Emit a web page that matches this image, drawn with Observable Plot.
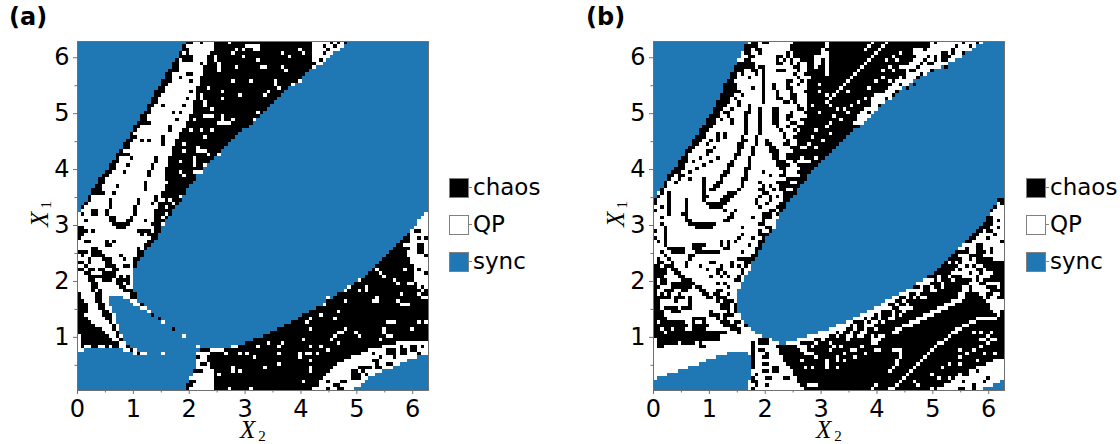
<!DOCTYPE html>
<html><head><meta charset="utf-8">
<script src="https://cdn.jsdelivr.net/npm/d3@7"></script>
<script src="https://cdn.jsdelivr.net/npm/@observablehq/plot@0.6"></script>
<style>
html,body{margin:0;padding:0;background:#fff;width:1120px;height:444px;overflow:hidden}
#page{position:relative;width:1120px;height:444px;font-family:"DejaVu Sans",sans-serif;color:#000}
.abs{position:absolute;white-space:nowrap;line-height:1}
.panel{position:absolute;top:0}
.tag{font-weight:700;font-size:24px}
.ax{font-family:"Liberation Serif",serif;font-style:italic;font-size:25px;line-height:.8}
.ax sub{font-style:normal;font-size:15px;vertical-align:-3px;line-height:0;margin-left:3px}
.sw{position:absolute;width:18px;height:18px;border:1px solid #808080;box-sizing:content-box}
.sw:after{content:"";position:absolute;left:19px;top:8px;width:3px;height:1px;background:#808080}
.lb{font-size:23px}
</style></head><body><div id="page"></div>
<script>
const categories=["chaos","QP","sync"];
const colors=["#000000","#ffffff","#1f77b4"];
const xTicks=[0,1,2,3,4,5,6], yTicks=[1,2,3,4,5,6];
const xMinor=[0.5,1.5,2.5,3.5,4.5,5.5], yMinor=[0.5,1.5,2.5,3.5,4.5,5.5];
const xDomain=[0,6.283], yDomain=[0.05,6.29];
// each row: state + end column, runs from left to right; k=chaos, w=QP, s=sync
const rowsA=[
"s31 k33 w35 k36 w39 k67 w72 k73 w74 k75 w76 k77","s30 k31 w39 k67 w70 k71 w73 k74 w76","s30 k32 w39 k67 w71 k72 w75","s29 k30 w31 k32 w38 k67 w70 k71 w73","s29 k33 w37 k67 w72",
"s28 k29 w30 k33 w37 k67 w69 k70 w71","s27 k29 w37 k68 w70","s27 k29 w36 k67 w68","s26 k29 w36 k66","s25 k27 w31 k33 w36 k65",
"s25 k27 w35 k64","s24 k27 w35 k63","s24 k26 w35 k62","s23 k25 w34 k60","s22 k25 w34 k59",
"s22 k24 w34 k58","s21 k23 w34 k57","s21 k23 w33 k56","s20 k22 w33 k55","s20 k21 w33 k54",
"s19 k21 w33 k53","s18 k20 w32 k52","s18 k20 w32 k51","s17 k21 w31 k50","s16 k18 w31 k49",
"s16 k17 w30 k47","s15 k16 w29 k46","s15 k17 w29 k45","s14 k16 w28 k44","s13 k15 w28 k43",
"s13 k15 w27 k42","s12 k13 w27 k41","s11 k15 w27 k40","s11 k12 w26 k39","s10 k12 w26 k38",
"s9 k11 w26 k37","s9 k11 w25 k36","s8 k10 w25 k35","s7 k9 w25 k34","s6 k8 w25 k34",
"s6 k8 w25 k33","s5 k7 w25 k32","s4 k7 w25 k31","s4 k8 w24 k31","s3 k4 w24 k30",
"s3 k4 w24 k30","s2 k3 w24 k29","s1 k2 w23 k28","s1 w4 k6 w22 k27","w1 k2 w4 k6 w8 k9 w16 k17 w22 k27 s99 w100",
"w9 k11 w15 k16 w22 k24 w25 k26 s98 w100","w2 k3 w9 k11 w14 k16 w19 k20 w22 k25 s97 w100","w10 k15 w21 k24 w25 s97 w100","k2 w11 k14 w22 k24 s96 w100","k3 w4 k5 w17 k21 w22 k24 s95 w96 k98 w100",
"k2 w18 k19 w20 k23 s94 k95 w100","k1 w21 k23 s93 k95 w97 k98 w99 k100","w2 k4 w8 k9 w10 k11 w20 k22 s92 k95 w100","w8 k10 w19 k21 s91 k93 w97 k99 w100","w4 k6 w17 k18 w19 k20 s90 k95 w97 k99 w100",
"k3 w4 k7 w17 k19 s89 k94 w97 k99 w100","w1 k2 w4 k8 w12 k13 w17 k19 s88 k94 w99 k100","w3 k4 w7 k10 w13 k14 w16 k18 s87 k95 w100","k2 w3 k4 w8 k10 w16 k17 s86 k95 w100","w2 k3 w8 k11 w13 k15 w16 k17 s85 k96 w100",
"k2 w3 k5 w6 k8 w10 k12 w16 s84 k96 w97 k98 w100","w2 k4 w7 k11 w16 s83 k96 w99 k100","w3 k5 k11 w12 k13 w14 k15 w16 s82 k96 w100","w3 k5 w7 k10 w11 k15 w16 s80 k96 w100","w4 k6 w11 k13 w14 k15 w16 s79 k94 w96 k97 w100",
"w4 k6 w12 k14 w16 s77 k97 w98 k99 w100","w4 k5 w6 k7 w13 k16 s76 k98 w99 k100","k1 w5 k7 w15 k17 s74 k97 w98 k100","k1 w5 k7 w9 s13 w15 k17 s73 k98 w100","k2 w5 k7 w9 s15 w17 s71 k100",
"k3 w6 k8 w9 s16 w18 k19 s70 k100","k3 w6 k8 w10 s18 w20 s68 k100","k3 w7 k9 w10 s20 w21 s66 k100","k2 w7 k10 w11 s21 k22 s64 k100","k3 w8 k10 w11 s23 k24 s63 k100",
"k4 w9 k10 w11 s24 w25 s61 k100","k5 w10 k11 w12 s59 k100","k7 w10 k11 w12 s27 k28 s57 k100","k8 w11 k12 s55 k100","w1 k9 w11 k12 w13 s30 w31 s53 k100",
"w1 k10 w12 k13 s50 k100","w1 k12 w14 s48 k91 w100","w1 k2 w4 k6 w8 k9 w10 k12 w14 k15 s34 w35 s44 w46 k87 w95 k97 w98 k99 w100","w2 s13 w15 k16 w17 s35 k38 w42 k83 w88 k91 w92 k94 w100","s16 w17 k18 w20 s24 w25 s34 w38 k81 w88 k91 w92 k94 w100",
"s34 k35 w37 k78 w97 s100","s34 w37 k76 w85 k86 w94 s100","s34 w35 k37 w38 k74 w85 k86 w89 k90 w92 s100","s34 w38 k73 w80 k84 w85 k87 w90 s100","s33 k36 w39 k72 w78 k79 w87 s100",
"s33 w39 k71 w78 k81 w82 k83 w85 s100","s32 w39 k70 w78 k81 w83 s100","s32 k34 w39 k69 w71 k72 w75 k77 w82 s100","s31 k33 w39 k69 w74 k75 w81 s100","s31 k32 w39 k67 w71 k72 w74 k76 w79 s100"];
// single cells [col,row]
const chaosDotsA=[[9,45],[9,46],[9,47],[8,48],[16,47],[16,48],[16,49],[17,45],[17,46],[19,40],[19,41],[19,42],[20,37],[20,38],[21,35],[21,36],[22,33],[22,34],[24,27],[24,28],[24,29],[26,24],[18,28],[20,28],[15,33],[14,35],[13,37],[11,41],[10,43],[24,18],[27,20],[29,20],[31,16],[32,14],[30,18],[28,22],[26,25],[32,11],[35,6],[29,10],[21,46],[22,44],[22,45],[23,46],[23,47],[78,94],[79,94],[84,91],[83,93],[88,92],[86,90],[84,89],[90,88],[75,97],[73,98],[81,94],[90,90],[92,87],[93,89],[95,88],[96,88],[97,89]];
const qpDotsA=[[43,0],[45,2],[47,2],[48,1],[49,1],[50,1],[51,1],[50,2],[44,3],[47,4],[39,4],[39,5],[40,6],[40,7],[40,8],[45,7],[44,11],[49,11],[46,15],[37,13],[41,14],[41,16],[35,15],[35,16],[36,17],[36,18],[38,19],[36,21],[37,21],[38,21],[41,21],[41,22],[41,23],[40,23],[42,23],[43,23],[44,22],[33,22],[32,25],[35,25],[38,25],[36,27],[30,29],[34,30],[30,31],[34,31],[35,31],[36,31],[33,33],[33,34],[33,35],[37,32],[40,32],[29,34],[36,35],[29,37],[30,38],[33,37],[34,37],[35,37],[25,40],[24,45],[25,47],[29,44],[27,46],[26,45],[25,49],[51,2],[51,5],[58,3],[60,4],[63,2],[64,3],[52,7],[53,7],[58,7],[59,8],[56,11],[56,12],[54,14],[57,13],[53,15],[51,20],[50,22],[61,12],[63,11],[85,65],[86,66],[87,67],[90,68],[91,69],[93,65],[94,69],[95,69],[80,68],[82,70],[80,71],[82,71],[76,71],[77,70],[76,74],[71,73],[70,75],[69,78],[74,77],[73,79],[66,79],[65,80],[66,82],[84,74],[85,74],[85,73],[91,74],[92,72],[92,75],[93,75],[94,75],[97,80],[99,80],[95,82],[88,80],[89,80],[90,80],[87,82],[87,83],[88,84],[89,84],[86,85],[80,84],[79,83],[76,82],[74,83],[75,83],[73,84],[72,85],[74,86],[54,86],[57,87],[58,86],[51,87],[50,90],[57,89],[57,92],[53,93],[64,85],[66,87],[63,89],[65,89],[66,89],[69,87],[68,89],[71,88],[63,90],[66,91],[66,93],[66,94],[64,97],[46,89],[48,89],[42,89],[40,95],[44,93],[44,94],[46,94],[49,99],[43,99]];
const rowsB=[
"s27 w28 k30 w31 k33 w40 k79 w80 k81 w88 k89 w92 k93 w94","s26 k30 w39 k79 w86 k87 w92","s26 k28 w29 k31 w39 k74 w77 k78 w85 k86 w89 w91","s25 w26 k28 w30 k31 w38 k39 w40 k74 w82 k84 w85 k86 w89","s25 w27 k29 w35 k37 w38 k39 w40 k75 w78 k79 w80 k81 w82 k85 w88",
"s24 w26 k28 w35 k36 w37 k38 w39 k40 w42 k74 w80 k81 w82 k84 w86","s24 k29 w35 k37 w39 k40 w41 k42 w44 k73 w76 k77 w79 k80 w84","s23 k29 w30 k32 w40 k42 w44 k71 w75 k76 w82","s23 k26 w28 k30 w31 k32 w35 k38 w41 k42 w44 k72 w74 k75 w80","s22 k24 w25 k26 w29 k30 w31 k32 w40 k41 w43 k72 w78",
"s22 k24 w27 k28 w31 k32 w41 k42 w45 k70 w76","s21 k23 w31 k32 w38 k40 w42 k43 w44 k69 w74","s20 k24 w31 k32 w34 k35 w38 k39 w41 k42 w44 k47 w48 k68 w73","s20 k24 w28 k29 w31 k32 w34 k35 w38 k40 w44 k67 w71","s20 k25 w31 k32 w35 k36 w39 k40 w43 k66 w70",
"s19 k23 w25 k26 w31 k32 w35 k36 w39 k41 w44 k63 w69","s19 k22 w23 k24 w31 k32 w35 k37 w39 k41 w44 k62 w68","s18 k22 w24 k25 w31 k32 w37 k39 w40 k41 w44 k62 w66","s18 k21 w24 k25 w27 k28 w41 k42 w44 k62 w65","s17 k20 w22 k23 w27 k28 w30 k31 w34 k36 w41 k43 w44 k60 w64",
"s17 k19 w20 k22 w26 k28 w30 k31 w34 k36 w39 k40 w43 k59 w63","s16 k19 w21 k22 w26 k27 w30 k31 w34 k36 w38 k40 w44 k58 w62","s15 k18 w19 k20 w22 k23 w26 k27 w30 k31 w34 k36 w38 k39 w42 k58 w61","s15 k18 w22 k23 w26 k27 w30 k31 w34 k36 w39 k41 w43 k57 w60","s14 k17 w26 k27 w30 k31 w35 k36 w38 k39 w41 k59",
"s13 k16 w26 k27 w30 k31 w36 k37 w40 k41 w42 k57","s13 k15 w18 k19 w20 k21 w26 k27 w30 k31 w37 k38 w41 k56","s12 k15 w18 k19 w20 k21 w25 k26 w29 k30 w37 k38 w40 k55","s11 k14 w16 k17 w18 k19 w25 k27 w29 k30 w32 k33 w38 k39 w41 k54","s11 k13 w15 k16 w24 k26 w29 k30 w32 k34 w37 k39 w41 k53",
"s10 k12 w17 k18 w24 k26 w28 k29 w33 k35 w39 k42 w44 k52","s9 k11 w15 k17 w24 k25 w28 k29 w33 k36 w40 k51","s9 k10 w15 k16 w23 k25 w28 k29 w34 k36 w38 k50","s8 k10 w13 k14 w18 k19 w23 k24 w27 k28 w34 k36 w38 k42 w43 k49","s7 k10 w11 k12 w16 k17 w22 k23 w27 k28 w35 k38 w40 k41 w45 k48",
"s7 k9 w14 k15 w21 k23 w27 k28 w35 k39 w41 k47","s6 k9 w12 k13 w21 k22 w26 k28 w36 k38 w42 k46","s5 k8 w10 k11 w20 k22 w26 k27 w31 k32 w37 k38 w41 k45","s4 k6 w7 k9 w19 k21 w26 k27 w33 k34 w36 k38 w42 k44","s4 k5 w7 k8 w10 k11 w14 k15 w19 k20 w25 k27 w38 k44",
"s3 k4 w6 k7 w14 k15 w18 k20 w25 k26 w30 k31 w35 k39 w41 k43","s3 k4 w14 k15 w17 k19 w25 k26 w31 k32 w33 k34 w36 k42","s2 k3 w14 k15 w16 k18 w24 k25 w30 k32 w34 k35 w36 k38 w40 k41","s1 w2 k3 w4 k5 w14 k15 w21 k24 w31 k33 w37 k41","s1 k2 w4 k5 w14 k16 w20 k23 w30 k31 w33 k34 w35 k36 w37 k40",
"k1 w4 k5 w9 k10 w14 k15 w19 k22 w29 k30 w33 k34 w37 k39 s98 k100","k1 w4 k5 w9 k10 w15 k21 w29 k30 w32 k33 w36 k38 s98 w99 k100","w2 k3 w4 k5 w9 k10 w16 k20 w30 k31 w35 k38 s97 k98 w100","k1 w4 k5 w9 k10 w20 k21 w23 k24 w33 k35 w36 k37 s96 k97 w100","w4 k5 w8 k10 w22 k23 w31 k34 w35 k36 s96 w100",
"w2 k3 w9 k10 w21 k23 w28 k29 w31 k34 w36 s95 k97 w100","w9 k11 w20 k22 w31 k32 w35 s95 k97 w98 k99 w100","w2 k3 w10 k18 w30 k32 w35 s94 k97 w100","w3 k4 w12 k17 w25 k26 w32 k34 w35 s93 k96 w98 k99 w100","k1 w3 k4 w30 k31 w33 k34 s92 k94 w95 k97 w100",
"w3 k4 w25 k26 w30 k33 s91 k93 w97 k98 w100","k1 w3 k4 w24 k25 w28 k29 w31 k32 s90 k92 w95 k96 w100","w1 k2 w3 k4 w19 k20 w21 k22 w23 k24 w30 k32 s89 k91 w99 k100","w3 k4 w11 k15 w19 k20 w21 k22 w27 k28 w30 k31 s88 w92 k94 w100","w4 k9 w11 k14 w20 k22 w29 k31 s87 w89 k90 w92 k94 w96 k97 w100",
"w2 k3 w5 k9 w12 k19 w25 k26 w29 k30 s86 k90 w92 k95 w96 k97 w100","w3 k4 w10 k12 w28 k30 s85 k87 w90 k94 w100","w1 k2 w4 k5 w10 k11 w24 k29 s84 k88 w90 k91 w92 k97 w100","w1 k3 w5 k6 w9 k10 w16 k18 w22 k23 w26 k28 s83 k88 w92 k100","k2 w3 k6 w9 k10 w13 k14 w19 k20 w22 k23 w24 k25 w26 k27 w28 s82 k87 w89 k90 w91 k92 w94 k100",
"k4 w5 k7 w15 k16 w18 k20 w25 k26 w28 s81 k86 w87 k88 w92 k94 w95 k100","k4 w6 k8 w18 k19 w20 k21 w25 k26 w27 s80 k85 w90 k91 w93 k94 w97 k100","k3 w7 k9 w16 k17 w19 k20 w21 k22 w24 k25 w26 s78 k84 w85 k88 w92 k93 w96 k100","k1 w2 k4 w8 k11 w23 k25 w26 s77 w80 k81 w82 k85 w86 k91 w92 k93 w94 k100","k1 w2 k4 w5 k12 w18 k19 w20 k21 w25 s75 w78 k82 w83 k90 w93 k95 w99 k100",
"k2 w5 k11 w12 k14 w21 k22 w25 s74 k76 w77 k79 w80 k82 w83 k88 w90 k91 w95 k98 w99 k100","k1 w3 k6 w8 k10 w13 k15 w18 k20 w24 s72 w75 k76 w77 k80 w81 k88 w90 k91 w96 k100","k1 w2 k3 w4 k5 w7 k8 w14 k16 w17 k19 w21 k22 w24 s70 w73 k75 w76 k87 w89 k93 w95 k97 w99 k100","k5 w6 k9 w10 k11 w15 k17 w18 k21 w24 s68 w70 k72 w73 k74 w75 k77 w78 k87 w89 k94 w95 k96 w98 k100","k2 w6 k7 w10 k11 w18 k19 w20 k23 w24 s66 w69 k71 w72 k85 w88 k95 w100",
"k2 w10 k11 w19 k22 w23 k24 s65 w67 k69 w70 k72 w73 k83 w86 k96 w100","k2 w3 k7 w8 k11 w19 k22 w23 k24 s63 w67 k71 w72 k73 w74 k81 w84 k96 w100","k3 w5 k8 w16 k17 w21 k22 w23 k24 s61 w65 k68 w69 k71 w72 k79 w82 k97 w99 k100","k3 w16 k19 w20 k23 w25 s59 w63 k64 w65 k68 w69 k70 w71 k77 w80 k98 w99 k100","k4 w11 k15 w18 k19 w20 k21 w25 s57 w60 k61 w62 k64 w65 k67 w68 k75 w78 k92 w98 k100",
"k1 w2 k9 w11 k12 w14 k15 w19 k22 w23 k25 w26 s55 w57 k60 w61 k62 w64 k65 w66 k73 w76 k90 w92 k100","k10 w11 k16 w20 k24 w26 k27 s52 w56 k57 w58 k60 w62 k71 w74 k88 w90 k100","k2 w3 k5 w6 k9 w11 k15 w22 k25 w28 s50 w55 k57 w58 k63 w64 k69 w71 k86 w88 k100","k3 w4 k21 w24 k25 w29 s47 w52 k53 w54 k56 w57 k60 w61 k68 w70 k85 w87 k91 w92 k93 w94 k96 w97 k100","k19 w31 s44 w50 k52 w53 k55 w56 k58 w60 k62 w63 k64 w66 k84 w85 k100",
"w1 k19 w30 k33 w34 s41 w46 k48 w49 k62 w65 k83 w84 k94 w95 k96 w97 k100","w1 k7 w8 k12 w13 k14 w28 k29 w30 k33 w36 s38 w42 k46 w47 k50 w51 k62 w64 k81 w83 k100","w1 k3 w13 k15 w28 k29 w35 k41 w44 k80 w81 k100","w28 k29 w30 k32 w36 k42 w44 k79 w80 k100","w21 s27 w28 k29 w32 k33 w36 k43 w46 k78 w79 k100",
"w18 s28 k29 w31 k33 w37 k77 w78 k100","w15 s28 k29 w37 k76 w77 k97 w100","w13 s28 k29 w31 k33 w38 k75 w76 k95 w100","w10 s28 k29 w34 k36 w39 k74 w75 k92 w100","w7 s28 w31 k33 w34 k36 w40 k73 w74 k90 w92 k93 w100",
"w4 s28 w29 k30 w40 k72 w73 k87 w89 k90 w100","w1 s28 k29 w32 k34 w37 k39 w41 k71 w72 k86 w100","s27 w28 k30 w41 k70 w71 k85 w88 k89 w99 s100","s27 w29 k30 w32 k33 w42 k69 w70 k83 w97 s100","s27 w28 k29 w43 k67 w69 k81 w87 k88 w91 k92 w94 s100"];
const chaosDotsB=[[88,95],[91,98],[91,99],[94,97],[95,96],[88,99],[77,5],[78,6],[83,7],[79,8],[76,9],[74,12],[72,13],[70,12],[71,10],[73,8],[85,2],[88,3],[90,1],[69,14],[66,16],[64,18],[75,10],[68,15],[61,20]];
const qpDotsB=[[66,0],[65,1],[64,2],[63,3],[62,4],[61,5],[60,6],[59,7],[58,8],[57,9],[56,10],[55,11],[54,12],[53,13],[52,14],[51,15],[50,16],[49,17],[62,0],[61,1],[60,2],[48,2],[48,3],[49,3],[48,4],[49,4],[49,5],[49,6],[49,7],[49,8],[49,9],[49,0],[49,1],[46,4],[47,4],[46,5],[47,5],[46,6],[47,6],[46,7],[70,3],[68,4],[66,5],[69,5],[67,7],[65,8],[70,7],[68,8],[63,11],[61,13],[65,10],[67,11],[55,14],[52,19],[51,21],[54,19],[56,18],[58,17],[60,16],[55,20],[53,22],[49,24],[50,26],[48,28],[46,30],[45,18],[50,23],[47,20],[46,25],[47,14],[49,15],[50,18],[45,27],[46,33],[44,29],[70,88],[70,89],[70,90],[69,91],[69,92],[68,93],[67,94],[68,88],[69,88],[45,87],[42,91],[43,93],[45,93],[49,91],[49,93],[52,91],[52,93],[46,90],[50,88],[44,98],[45,98],[46,98],[49,92],[52,90],[54,89],[54,91],[57,90],[60,89],[56,88],[57,88],[59,87],[51,87],[53,87],[55,85],[56,84],[59,83],[60,82],[64,84],[65,84],[63,88],[64,88],[68,83],[63,80],[62,81],[68,79],[70,76],[72,76],[67,76],[72,73],[75,71],[73,71],[76,73],[79,71],[78,69],[82,70],[81,67],[85,68],[87,66],[84,63],[86,63],[89,63],[93,85],[95,84],[97,85],[93,87],[95,86],[97,89],[87,88],[91,88],[89,89],[92,91],[94,89],[87,90],[84,92],[82,93],[87,92],[75,98],[74,97],[79,95],[81,96],[79,99],[84,96],[63,98],[62,99]];

const byCode={k:categories[0],w:categories[1],s:categories[2]};
function spansFrom(rows,chaosDots,qpDots){
  const grid=rows.map(line=>{const g=new Array(100).fill(categories[2]);let at=0;
    for(const t of line.split(" ")){const e=+t.slice(1);for(let i=at;i<e&&i<100;i++)g[i]=byCode[t[0]];at=Math.max(at,e);}
    return g;});
  chaosDots.forEach(([c,r])=>{grid[r][c]=categories[0]});
  qpDots.forEach(([c,r])=>{grid[r][c]=categories[1]});
  const dx=(xDomain[1]-xDomain[0])/100, dy=(yDomain[1]-yDomain[0])/100, out=[];
  grid.forEach((g,r)=>{let a=0;for(let c=1;c<=100;c++){if(c===100||g[c]!==g[a]){
    out.push({x1:a*dx,x2:c*dx,y1:yDomain[1]-(r+1)*dy,y2:yDomain[1]-r*dy,state:g[a]});a=c;}}});
  return out;
}
function panel(rows,chaosDots,qpDots){
  return Plot.plot({width:351+77+10,height:444,marginLeft:77,marginRight:10,marginTop:41,marginBottom:54,
    style:{background:"transparent",fontFamily:"DejaVu Sans",fontSize:"24px",color:"#000"},
    x:{domain:xDomain,ticks:xTicks,label:null},
    y:{domain:yDomain,ticks:yTicks,label:null},
    color:{domain:categories,range:colors},
    marks:[
      Plot.rect(spansFrom(rows,chaosDots,qpDots),{x1:"x1",x2:"x2",y1:"y1",y2:"y2",fill:"state",shapeRendering:"crispEdges"}),
      Plot.axisX(xTicks,{anchor:"bottom",tickSize:4,stroke:"#707070",tickPadding:5,fill:"#000",fontSize:24,label:null,tickFormat:d=>String(d)}),
      Plot.axisY(yTicks,{anchor:"left",tickSize:4,stroke:"#707070",tickPadding:4,fill:"#000",fontSize:24,label:null,tickFormat:d=>String(d)}),
      Plot.axisX(xMinor,{anchor:"bottom",tickSize:2.5,stroke:"#707070",text:null,label:null}),
      Plot.axisY(yMinor,{anchor:"left",tickSize:2.5,stroke:"#707070",text:null,label:null}),
      Plot.frame({stroke:"#707070",strokeWidth:1})
    ]});
}
const page=document.getElementById("page");
function add(html,left,top,cls){const d=document.createElement("div");d.className="abs "+(cls||"");d.style.left=left+"px";d.style.top=top+"px";d.innerHTML=html;page.appendChild(d);return d;}
function place(svg,left){const w=document.createElement("div");w.className="panel";w.style.left=left+"px";w.appendChild(svg);page.appendChild(w);}
place(panel(rowsA,chaosDotsA,qpDotsA),0);
place(panel(rowsB,chaosDotsB,qpDotsB),576);
add("(a)",9,5,"tag");add("(b)",586,5,"tag");
for(const off of [0,576]){
  add('X<sub>2</sub>',off+240,420,"ax");
  const y=add('X<sub>1</sub>',off+27,204,"ax");y.style.transform="rotate(-90deg)";y.style.transformOrigin="center center";
}
[[449,473],[1026,1050]].forEach(([sx,tx])=>{
  categories.forEach((c,i)=>{
    const s=document.createElement("div");s.className="sw";s.style.left=sx+"px";s.style.top=(178+i*37)+"px";s.style.background=colors[i];page.appendChild(s);
    add(c,tx,[176,213,250][i],"lb");
  });
});
</script></body></html>
